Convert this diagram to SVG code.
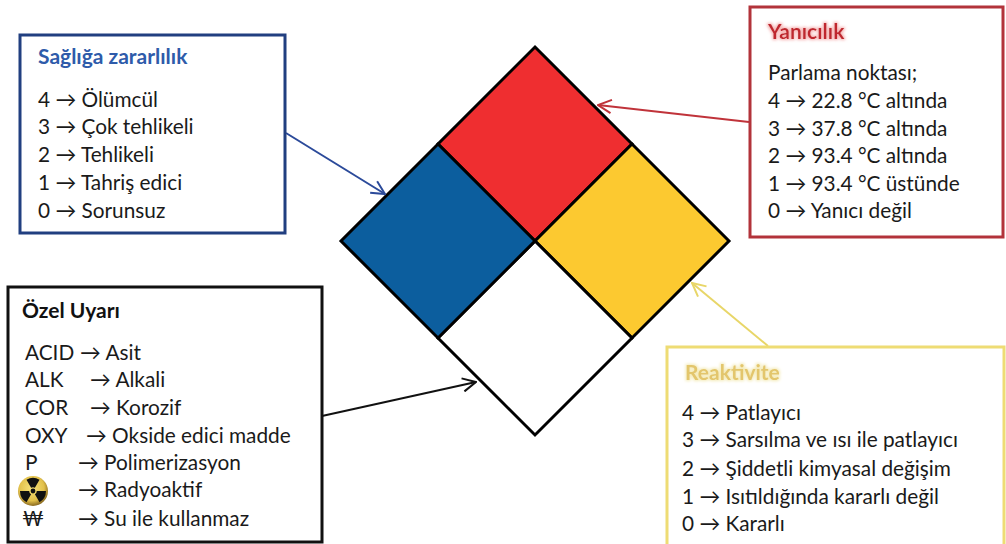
<svg xmlns="http://www.w3.org/2000/svg" width="1006" height="544" viewBox="0 0 1006 544">
<style>
.t{font-family:Lato,"Open Sans","Liberation Sans",sans-serif;font-size:20.8px;fill:#1a1a1a}
.h{font-family:Lato,"Open Sans","Liberation Sans",sans-serif;font-size:21px;font-weight:bold}
.box{fill:#fff;stroke-width:3}
.sq{stroke:#000;stroke-width:3;stroke-linejoin:miter}
.con{fill:none;stroke-width:2}
</style>
<defs>
<marker id="mb" viewBox="0 0 12 12" refX="11" refY="6" markerWidth="8" markerHeight="8" orient="auto" markerUnits="strokeWidth"><path d="M1,1 L11,6 L1,11" fill="none" stroke="#2B4A9A" stroke-width="1.5"/></marker>
<marker id="mr" viewBox="0 0 12 12" refX="11" refY="6" markerWidth="8" markerHeight="8" orient="auto" markerUnits="strokeWidth"><path d="M1,1 L11,6 L1,11" fill="none" stroke="#C0333A" stroke-width="1.5"/></marker>
<marker id="mk" viewBox="0 0 12 12" refX="11" refY="6" markerWidth="8" markerHeight="8" orient="auto" markerUnits="strokeWidth"><path d="M1,1 L11,6 L1,11" fill="none" stroke="#111" stroke-width="1.5"/></marker>
<marker id="my" viewBox="0 0 12 12" refX="11" refY="6" markerWidth="8" markerHeight="8" orient="auto" markerUnits="strokeWidth"><path d="M1,1 L11,6 L1,11" fill="none" stroke="#E8D668" stroke-width="1.5"/></marker>
<radialGradient id="rg" cx="0.45" cy="0.4" r="0.6"><stop offset="0" stop-color="#F6E27A"/><stop offset="0.7" stop-color="#E2C04A"/><stop offset="1" stop-color="#8A6A20"/></radialGradient>
<path id="blade" d="M-1.9,-3.3 L-6.5,-11.26 A13,13 0 0 1 6.5,-11.26 L1.9,-3.3 A3.8,3.8 0 0 0 -1.9,-3.3 Z" fill="#111"/>
<filter id="glowR" x="-10%" y="-30%" width="120%" height="160%"><feMorphology in="SourceAlpha" operator="dilate" radius="1.2" result="d"/><feGaussianBlur in="d" stdDeviation="1.5" result="b"/><feFlood flood-color="#F6B4B4"/><feComposite in2="b" operator="in" result="g"/><feMerge><feMergeNode in="g"/><feMergeNode in="SourceGraphic"/></feMerge></filter>
<filter id="glowY" x="-10%" y="-30%" width="120%" height="160%"><feMorphology in="SourceAlpha" operator="dilate" radius="1.2" result="d"/><feGaussianBlur in="d" stdDeviation="1.5" result="b"/><feFlood flood-color="#F4EBB8"/><feComposite in2="b" operator="in" result="g"/><feMerge><feMergeNode in="g"/><feMergeNode in="SourceGraphic"/></feMerge></filter>
</defs>
<rect width="1006" height="544" fill="#fff"/>

<g id="diamond">
<polygon class="sq" fill="#EF2E30" points="535,47 632,144 535,241 438,144"/>
<polygon class="sq" fill="#FCC930" points="632,144 729,241 632,338 535,241"/>
<polygon class="sq" fill="#FFFFFF" points="535,241 632,338 535,435 438,338"/>
<polygon class="sq" fill="#0C5E9E" points="438,144 535,241 438,338 341,241"/>
</g>

<g id="connectors">
<line class="con" stroke="#2B4A9A" x1="286" y1="133" x2="385" y2="194" marker-end="url(#mb)"/>
<line class="con" stroke="#C0333A" x1="749" y1="122" x2="598" y2="105" marker-end="url(#mr)"/>
<line class="con" stroke="#111" x1="322" y1="416" x2="476" y2="382" marker-end="url(#mk)"/>
<line class="con" stroke="#E8D668" x1="768" y1="346" x2="692" y2="283" marker-end="url(#my)"/>
</g>

<g id="health">
<rect class="box" stroke="#213F80" x="20" y="35" width="265" height="198"/>
<text class="h" x="38" y="64" fill="#2E5BAA">Sağlığa zararlılık</text>
<text class="t" x="38" y="107">4 → Ölümcül</text>
<text class="t" x="38" y="134">3 → Çok tehlikeli</text>
<text class="t" x="38" y="162">2 → Tehlikeli</text>
<text class="t" x="38" y="190">1 → Tahriş edici</text>
<text class="t" x="38" y="218">0 → Sorunsuz</text>
</g>

<g id="flammability">
<rect class="box" stroke="#B2333A" x="750" y="7" width="253" height="230"/>
<text class="h" x="768" y="39" fill="#C0272D" filter="url(#glowR)">Yanıcılık</text>
<text class="t" x="768" y="80">Parlama noktası;</text>
<text class="t" x="768" y="108">4 → 22.8 °C altında</text>
<text class="t" x="768" y="136">3 → 37.8 °C altında</text>
<text class="t" x="768" y="163">2 → 93.4 °C altında</text>
<text class="t" x="768" y="191">1 → 93.4 °C üstünde</text>
<text class="t" x="768" y="218">0 → Yanıcı değil</text>
</g>

<g id="special">
<rect class="box" stroke="#111" x="8" y="287" width="314" height="255"/>
<text class="h" x="22" y="318" fill="#111">Özel Uyarı</text>
<text class="t" x="25" y="360">ACID</text><text class="t" x="80" y="360">→ Asit</text>
<text class="t" x="25" y="387">ALK</text><text class="t" x="90" y="387">→ Alkali</text>
<text class="t" x="25" y="415">COR</text><text class="t" x="90" y="415">→ Korozif</text>
<text class="t" x="25" y="443">OXY</text><text class="t" x="86" y="443">→ Okside edici madde</text>
<text class="t" x="25" y="470">P</text><text class="t" x="78" y="470">→ Polimerizasyon</text>
<g transform="translate(33,491)">
<circle r="15" fill="url(#rg)"/>
<use href="#blade"/>
<use href="#blade" transform="rotate(120)"/>
<use href="#blade" transform="rotate(240)"/>
<circle r="2.4" fill="#111"/>
</g>
<text class="t" x="78" y="497">→ Radyoaktif</text>
<text class="t" x="22" y="526">₩</text><text class="t" x="78" y="526">→ Su ile kullanmaz</text>
</g>

<g id="reactivity">
<rect class="box" stroke="#EEDC74" x="667" y="347" width="337" height="200"/>
<text class="h" x="685" y="380" fill="#E3C66C" filter="url(#glowY)">Reaktivite</text>
<text class="t" x="682" y="420">4 → Patlayıcı</text>
<text class="t" x="682" y="447">3 → Sarsılma ve ısı ile patlayıcı</text>
<text class="t" x="682" y="476">2 → Şiddetli kimyasal değişim</text>
<text class="t" x="682" y="504">1 → Isıtıldığında kararlı değil</text>
<text class="t" x="682" y="531">0 → Kararlı</text>
</g>
</svg>
